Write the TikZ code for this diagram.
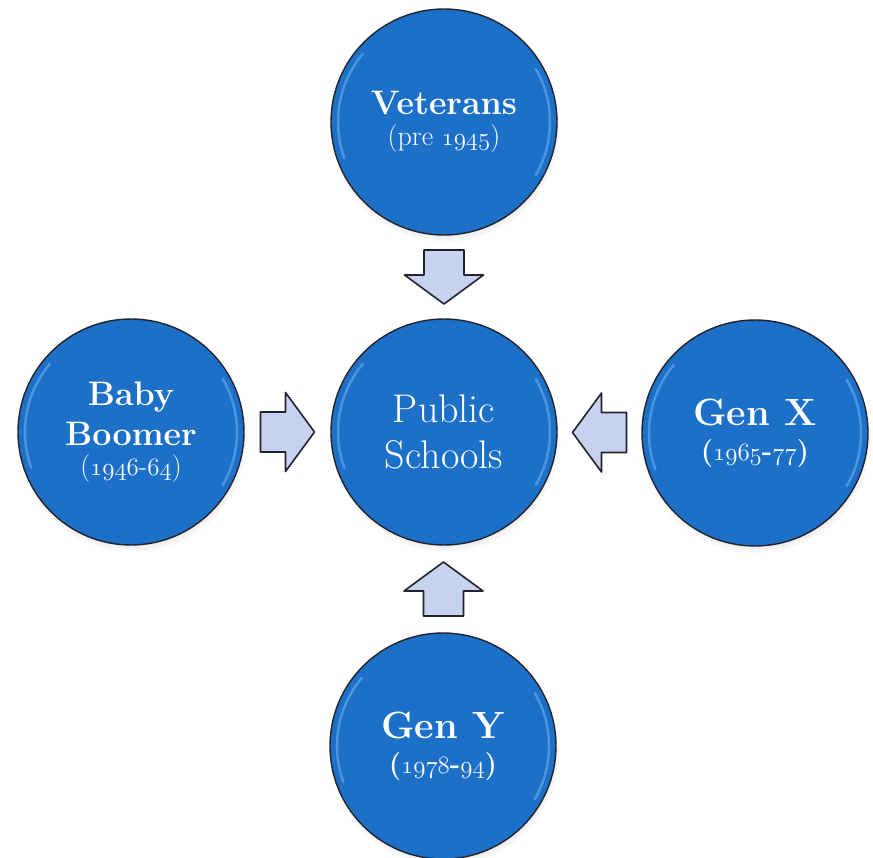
\documentclass[tikz,border=0pt]{standalone}
\usetikzlibrary{calc,shadows}
\definecolor{discblue}{RGB}{28,112,200}
\definecolor{rimblue}{RGB}{130,195,245}
\definecolor{arrowfill}{RGB}{198,210,240}
\definecolor{edgegray}{RGB}{35,35,45}
\tikzset{
  disc/.style={circle, minimum size=226pt, inner sep=0pt, fill=discblue, draw=edgegray,
    line width=1.4pt, text=white, align=center,
    circular drop shadow={shadow xshift=1pt, shadow yshift=-5pt, opacity=0.35, shadow scale=1.02}},
  rimglow/.style={rimblue, line width=2.5pt, opacity=0.45, line cap=round},
  blockarr/.style={fill=arrowfill, draw=edgegray, line width=1.6pt, line join=round},
}
% old style figures, light and bold
\newcommand{\osn}[1]{{\fontencoding{OML}\fontfamily{lmm}\fontseries{m}\fontshape{it}\selectfont #1}}
\newcommand{\osb}[1]{{\fontencoding{OML}\fontfamily{lmm}\fontseries{b}\fontshape{it}\selectfont #1}}
\newcommand{\datefont}{\fontsize{28}{30}\selectfont}
\begin{document}
\begin{tikzpicture}[x=1pt,y=1pt]
  \useasboundingbox[fill=white] (0,0) rectangle (873,-858);
  % the five discs
  \node[disc, font=\fontsize{40}{46}\selectfont] (pub) at (444,-432) {Public\\ Schools};
  \node[disc, font=\bfseries\fontsize{34}{31}\selectfont] (vet) at (444,-122)
    {Veterans\\ \mdseries\datefont (pre \osn{1945})};
  \node[disc, font=\bfseries\fontsize{34}{40}\selectfont] (boom) at (131,-432)
    {Baby\\ Boomer\\[-10pt] \mdseries\datefont (\osn{1946}-\osn{64})};
  \node[disc, font=\bfseries\fontsize{38}{35}\selectfont] (genx) at (755,-433)
    {Gen X\\ \datefont (\osb{1965}-\osb{77})};
  \node[disc, font=\bfseries\fontsize{38}{35}\selectfont] (geny) at (443,-746)
    {Gen Y\\ \datefont (\osb{1978}-\osb{94})};
  % glossy rims
  \foreach \n in {pub,vet,boom,genx,geny} {
    \draw[rimglow] ($(\n.center)+(140:106)$) arc (140:200:106);
    \draw[rimglow] ($(\n.center)+(-30:106)$) arc (-30:30:106);
  }
  % block arrows into the centre
  \foreach \src/\ang in {vet/-90, boom/0, genx/180, geny/90} {
    \coordinate (m-\src) at ($(\src)!0.5!(pub)$);
    \draw[blockarr, shift={(m-\src)}, rotate=\ang] (-27,-20) -- (-2,-20) -- (-2,-39.5)
      -- (27,0) -- (-2,39.5) -- (-2,20) -- (-27,20) -- cycle;
  }
\end{tikzpicture}
\end{document}
